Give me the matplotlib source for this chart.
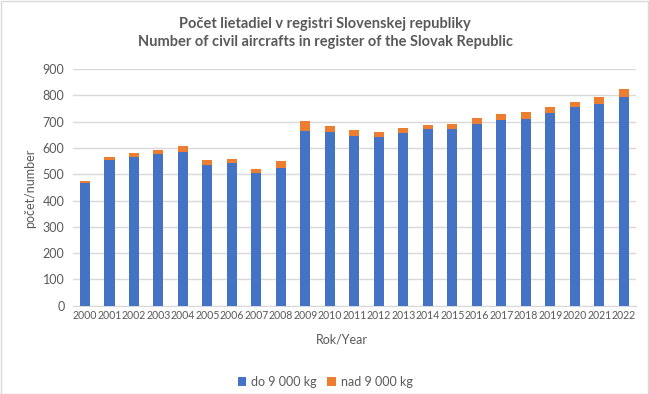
import matplotlib
matplotlib.use("Agg")
import matplotlib.pyplot as plt
from matplotlib.patches import Rectangle

years = [str(y) for y in range(2000, 2023)]
light = [466, 554, 565, 577, 584, 535, 542, 504, 523, 664, 660, 645, 641, 657, 672, 672, 691, 706, 710, 733, 755, 767, 793]
total = [474, 565, 580, 592, 607, 554, 558, 520, 550, 702, 683, 668, 660, 676, 687, 691, 714, 729, 736, 755, 774, 793, 824]
heavy = [t - l for t, l in zip(total, light)]
yticks = list(range(0, 901, 100))

plt.rcParams['font.family'] = ['Lato', 'DejaVu Sans']
grey = '#595959'

fig = plt.figure(figsize=(6.49, 3.94), dpi=100)
W, H = 649, 394
ax = fig.add_axes([72.75 / W, 1 - 305.7 / H, (636 - 72.75) / W, (305.7 - 69) / H])
x = list(range(len(years)))
b1 = ax.bar(x, light, width=0.41, color='#4472C4', label='do 9 000 kg', zorder=3)
b2 = ax.bar(x, heavy, width=0.41, bottom=light, color='#ED7D31', label='nad 9 000 kg', zorder=3)
ax.set_xlim(-0.5, len(years) - 0.5)
ax.set_ylim(0, 900)
ax.set_yticks(yticks)
ax.set_xticks(x)
ax.set_xticklabels(years)
ax.tick_params(axis='both', length=0, colors=grey, labelsize=9)
ax.tick_params(axis='x', pad=3, labelsize=7.6)
ax.tick_params(axis='y', pad=6)
ax.grid(axis='y', color='#D9D9D9', linewidth=1, zorder=0)
for s in ['top', 'right', 'left']:
    ax.spines[s].set_visible(False)
ax.spines['bottom'].set_color('#D9D9D9')

fig.text(325 / W, 1 - 24 / H, 'Počet lietadiel v registri Slovenskej republiky', ha='center', va='center',
         fontsize=10.5, fontweight='bold', color=grey)
fig.text(325 / W, 1 - 42 / H, 'Number of civil aircrafts in register of the Slovak Republic', ha='center', va='center',
         fontsize=10.5, fontweight='bold', color=grey)
fig.text(30 / W, 1 - 188 / H, 'počet/number', rotation=90, ha='center', va='center', fontsize=9, color=grey)
fig.text(342 / W, 1 - 339 / H, 'Rok/Year', ha='center', va='center', fontsize=9, color=grey)

leg = fig.legend(handles=[b1, b2], loc='center', bbox_to_anchor=(325 / W, 1 - 382 / H), ncol=2, frameon=False,
                 fontsize=9, handlelength=0.7, handleheight=0.7, handletextpad=0.4, columnspacing=0.8)
for t in leg.get_texts():
    t.set_color(grey)

fig.patches.append(Rectangle((0.5 / W, 0.5 / H), 1 - 1.5 / W, 1 - 1.5 / H, transform=fig.transFigure,
                             fill=False, edgecolor='#D9D9D9', linewidth=1))
fig.savefig('out.png', dpi=100)
